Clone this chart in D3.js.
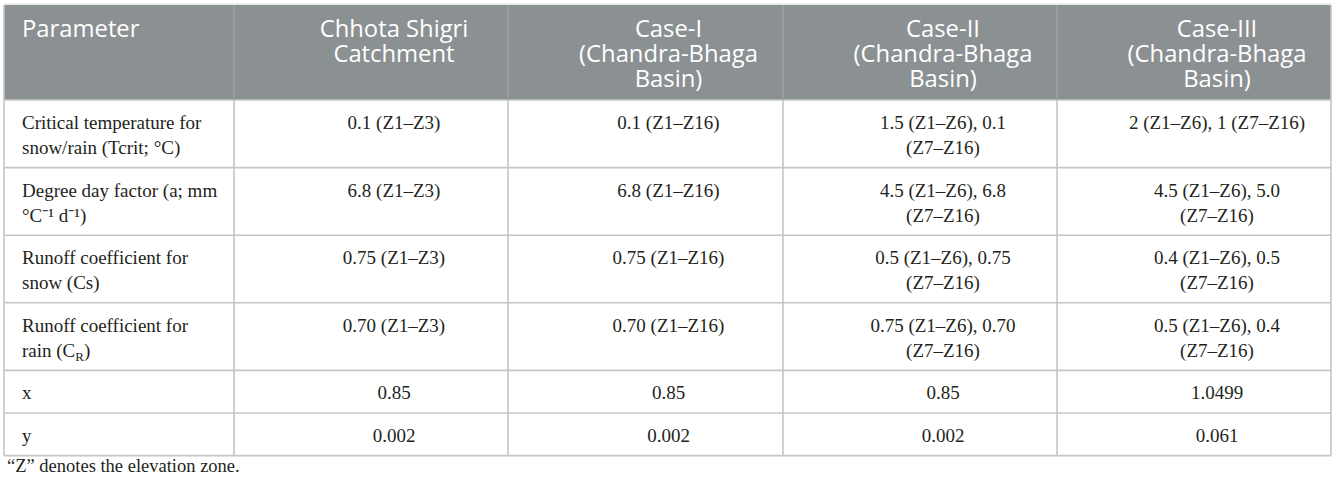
<!DOCTYPE html>
<html>
<head>
<meta charset="utf-8">
<script src="https://cdn.jsdelivr.net/npm/d3@7"></script>
<style>
	html, body { margin: 0; padding: 0; background: #fff; }
	svg { display: block; }
	.head { font-family: "Open Sans", sans-serif; font-size: 23.8px; fill: #fff; }
	.cell { font-family: "Liberation Serif", "Times New Roman", serif; font-size: 19px; fill: #231f20; }
	.note { font-family: "Liberation Serif", "Times New Roman", serif; font-size: 18.5px; fill: #231f20; }
</style>
</head>
<body>
<div id="table"></div>
<script>
// column headers (each line as it is broken in the picture)
var	columns	= [
		["Parameter"],
		["Chhota Shigri", "Catchment"],
		["Case-I", "(Chandra-Bhaga", "Basin)"],
		["Case-II", "(Chandra-Bhaga", "Basin)"],
		["Case-III", "(Chandra-Bhaga", "Basin)"]
	];
var	parameters	= [
		["Critical temperature for", "snow/rain (Tcrit; °C)"],
		["Degree day factor (a; mm", "°C\u207B\u00B9 d\u207B\u00B9)"],
		["Runoff coefficient for", "snow (Cs)"],
		["Runoff coefficient for", "rain (C<sub>R</sub>)"],
		["x"],
		["y"]
	];
var	chhotaShigri	= [["0.1 (Z1–Z3)"], ["6.8 (Z1–Z3)"], ["0.75 (Z1–Z3)"], ["0.70 (Z1–Z3)"], ["0.85"], ["0.002"]];
var	caseI		= [["0.1 (Z1–Z16)"], ["6.8 (Z1–Z16)"], ["0.75 (Z1–Z16)"], ["0.70 (Z1–Z16)"], ["0.85"], ["0.002"]];
var	caseII		= [["1.5 (Z1–Z6), 0.1", "(Z7–Z16)"], ["4.5 (Z1–Z6), 6.8", "(Z7–Z16)"], ["0.5 (Z1–Z6), 0.75", "(Z7–Z16)"], ["0.75 (Z1–Z6), 0.70", "(Z7–Z16)"], ["0.85"], ["0.002"]];
var	caseIII		= [["2 (Z1–Z6), 1 (Z7–Z16)"], ["4.5 (Z1–Z6), 5.0", "(Z7–Z16)"], ["0.4 (Z1–Z6), 0.5", "(Z7–Z16)"], ["0.5 (Z1–Z6), 0.4", "(Z7–Z16)"], ["1.0499"], ["0.061"]];
var	footnote	= "\u201CZ\u201D denotes the elevation zone.";

var	W	= 1337, H = 485,
	tLeft	= 4, tRight = 1331, tTop = 5,
	colW	= [230, 274, 275, 274, 274],
	lineH	= 25,
	bodyCols= [parameters, chhotaShigri, caseI, caseII, caseIII];

var	edges	= [tLeft];
colW.forEach(function(w, i) { edges.push(edges[i] + w); });
var	x	= d3.scaleOrdinal().domain(d3.range(columns.length)).range(edges.slice(0, -1));

// row heights follow the number of lines in the tallest cell
var	headH	= 20 + lineH * d3.max(columns, function(c) { return c.length; }),
	rowLines= parameters.map(function(p, r) { return d3.max(bodyCols, function(c) { return c[r].length; }); }),
	rowTops	= [tTop + headH];
rowLines.forEach(function(n, i) { rowTops.push(rowTops[i] + 17.6 + lineH * n); });
var	y	= d3.scaleOrdinal().domain(d3.range(rowLines.length)).range(rowTops.slice(0, -1)),
	tBottom	= rowTops[rowTops.length - 1];

var	svg	= d3.select("#table").append("svg").attr("width", W).attr("height", H);

svg.append("rect").attr("x", tLeft).attr("y", tTop).attr("width", tRight - tLeft).attr("height", headH)
	.attr("fill", "#8b9093");

function textX(i) { return i == 0 ? x(i) + 18 : x(i) + colW[i] / 2 + 23; }

// header
var	hd	= svg.append("g").selectAll("text").data(columns).enter().append("text")
		.attr("class", "head")
		.attr("text-anchor", function(d, i) { return i == 0 ? "start" : "middle"; })
		.attr("y", tTop + 32);
hd.selectAll("tspan").data(function(d, i) { return d.map(function(l) { return {t: l, c: i}; }); })
	.enter().append("tspan")
	.attr("x", function(d) { return textX(d.c); })
	.attr("dy", function(d, k) { return k == 0 ? 0 : lineH; })
	.text(function(d) { return d.t; });

// body cells
var	cells	= [];
bodyCols.forEach(function(col, c) {
	col.forEach(function(lines, r) { cells.push({c: c, r: r, lines: lines}); });
});
var	ct	= svg.append("g").selectAll("text").data(cells).enter().append("text")
		.attr("class", "cell")
		.attr("text-anchor", function(d) { return d.c == 0 ? "start" : "middle"; })
		.attr("y", function(d) { return y(d.r) + 29; });
ct.each(function(d) {
	var	t = d3.select(this);
	d.lines.forEach(function(l, k) {
		var	sp = t.append("tspan").attr("x", textX(d.c)).attr("dy", k == 0 ? 0 : lineH),
			m = l.match(/^(.*)<sub>(.*)<\/sub>(.*)$/);
		if (m) {
			sp.text(m[1]);
			sp.append("tspan").attr("font-size", "13px").attr("dy", 4).text(m[2]);
			sp.append("tspan").attr("dy", -4).text(m[3]);
		} else sp.text(l);
	});
});

// grid lines
var	grid	= svg.append("g").attr("stroke", "#c3c5c6").attr("stroke-width", 1.6).attr("fill", "none");
grid.selectAll("line.h").data(rowTops).enter().append("line")
	.attr("x1", tLeft).attr("x2", tRight)
	.attr("y1", function(d) { return d; }).attr("y2", function(d) { return d; });
grid.selectAll("line.v").data(edges).enter().append("line")
	.attr("x1", function(d) { return d; }).attr("x2", function(d) { return d; })
	.attr("y1", function(d, i) { return (i == 0 || i == edges.length - 1) ? tTop : tTop + headH; })
	.attr("y2", tBottom);
grid.selectAll("line.hv").data(edges.slice(1, -1)).enter().append("line")
	.attr("stroke", "#9ea2a5")
	.attr("x1", function(d) { return d; }).attr("x2", function(d) { return d; })
	.attr("y1", tTop).attr("y2", tTop + headH);
grid.append("line").attr("stroke", "#e3e4e5").attr("x1", tLeft).attr("x2", tRight).attr("y1", tTop - 1).attr("y2", tTop - 1);

svg.append("text").attr("class", "note").attr("x", 7).attr("y", tBottom + 16).text(footnote);
</script>
</body>
</html>
